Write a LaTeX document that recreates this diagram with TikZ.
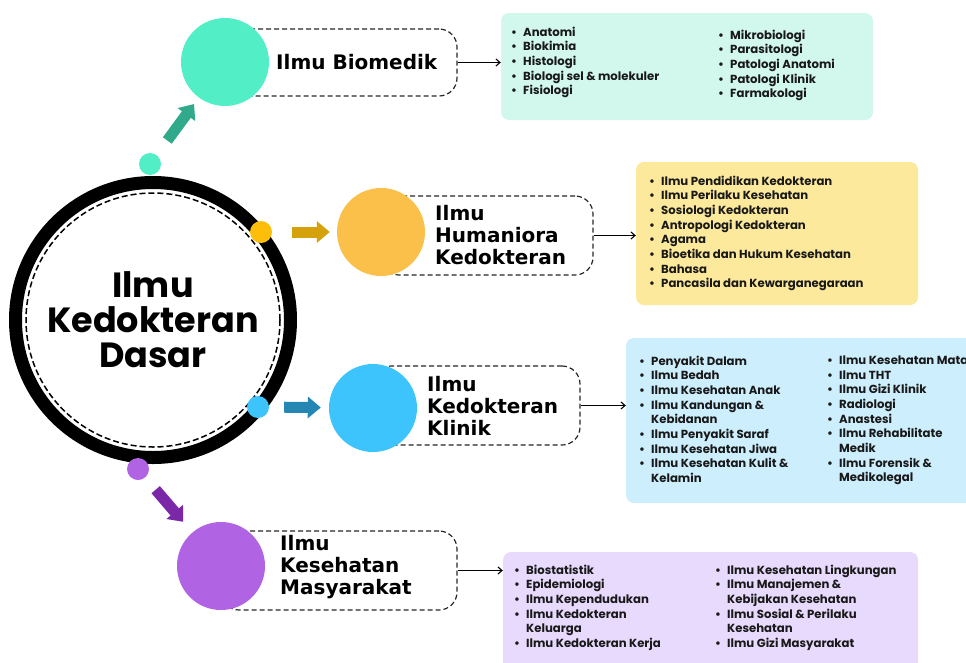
\documentclass[tikz,border=0pt]{standalone}
\usepackage{fontspec}
\setmainfont{Poppins}
\newfontfamily\headfont{DejaVu Sans}
\usetikzlibrary{arrows.meta,positioning}
\definecolor{cTeal}{RGB}{82,239,198}
\definecolor{cTealDk}{RGB}{49,169,139}
\definecolor{cTealBg}{RGB}{210,248,238}
\definecolor{cAmber}{RGB}{250,192,74}
\definecolor{cAmberDot}{RGB}{252,190,10}
\definecolor{cAmberDk}{RGB}{214,162,12}
\definecolor{cAmberBg}{RGB}{253,233,155}
\definecolor{cSky}{RGB}{62,196,253}
\definecolor{cSkyDk}{RGB}{36,135,179}
\definecolor{cSkyBg}{RGB}{205,238,252}
\definecolor{cViolet}{RGB}{176,99,227}
\definecolor{cVioletDk}{RGB}{123,40,168}
\definecolor{cVioletBg}{RGB}{232,218,252}
\tikzset{
	ring/.style={circle, draw=black, line width=13pt, inner sep=0pt,
		minimum size=275pt, align=center,
		font=\bfseries\fontsize{35}{35}\selectfont},
	dot/.style={circle, inner sep=0pt, minimum size=22pt},
	bigdot/.style={circle, inner sep=0pt, minimum size=88pt},
	dashbox/.style={draw=black!85, dash pattern=on 5pt off 3pt, line width=1.2pt,
		rounded corners=18pt, inner sep=0pt},
	title/.style={anchor=west, inner sep=0pt, align=left,
		font=\headfont\bfseries\fontsize{20}{22}\selectfont},
	listbox/.style={rounded corners=8pt, inner sep=0pt},
	listtxt/.style={anchor=north west, inner sep=0pt, align=left,
		font=\bfseries\fontsize{11.7}{14.7}\selectfont, text=black!90},
	blk/.style={line width=11pt, -{Triangle[length=13pt,width=21pt]}},
	lnk/.style={-{Straight Barb[length=4pt,width=7pt]}, line width=1.1pt},
}
\newcommand{\itm}[1]{\makebox[12pt][l]{\textbullet}#1}
\newcommand{\cnt}[1]{\hspace*{12pt}#1}
\begin{document}
\begin{tikzpicture}[x=1pt,y=-1pt]
	\useasboundingbox (0,0) rectangle (966,662);
	\clip (0,0) rectangle (966,662);
	% dashed title boxes
	\node[dashbox, minimum width=232pt, minimum height=67pt] (biobox) at (341,62.5) {};
	\node[dashbox, minimum width=212pt, minimum height=79pt] (humbox) at (487,235.5) {};
	\node[dashbox, minimum width=207pt, minimum height=79pt] (klibox) at (476.5,405.5) {};
	\node[dashbox, minimum width=236pt, minimum height=79pt] (masbox) at (339,570.5) {};
	% coloured circles
	\node[bigdot, fill=cTeal] (biocirc) at (225,62) {};
	\node[bigdot, fill=cAmber] (humcirc) at (381,232) {};
	\node[bigdot, fill=cSky] (klicirc) at (373,408) {};
	\node[bigdot, fill=cViolet] (mascirc) at (221,566) {};
	% titles
	\node[title] (biott) at (276,62) {Ilmu Biomedik};
	\node[title] (humtt) at (435,235.5) {Ilmu\\Humaniora\\Kedokteran};
	\node[title] (klitt) at (427,405.5) {Ilmu\\Kedokteran\\Klinik};
	\node[title] (mastt) at (280,567.5) {Ilmu\\Kesehatan\\Masyarakat};
	% central ring
	\node[ring] (core) at (153,320) {Ilmu\\Kedokteran\\Dasar};
	\draw[dashed, line width=1.5pt, dash pattern=on 6pt off 3pt] (core.center) circle (127);
	\node[dot, fill=cTeal] (dotbio) at (150,164) {};
	\node[dot, fill=cAmberDot] (dothum) at (261,232) {};
	\node[dot, fill=cSky] (dotkli) at (258,407) {};
	\node[dot, fill=cViolet] (dotmas) at (138,469) {};
	% block arrows
	\draw[blk, cTealDk, shorten <=18pt, shorten >=8pt] (dotbio) -- (biocirc);
	\draw[blk, cAmberDk, shorten <=20pt, shorten >=7pt] (dothum) -- (humcirc);
	\draw[blk, cSkyDk, shorten <=15pt, shorten >=8pt] (dotkli) -- (klicirc);
	\draw[blk, cVioletDk, shorten <=16pt, shorten >=14pt] (dotmas) -- (mascirc);
	% list boxes
	\node[listbox, fill=cTealBg, minimum width=372pt, minimum height=107pt] (biolist) at (687,66.5) {};
	\node[listbox, fill=cAmberBg, minimum width=282pt, minimum height=143pt] (humlist) at (777,233.5) {};
	\node[listbox, fill=cSkyBg, minimum width=364pt, minimum height=165pt] (klilist) at (808,420.5) {};
	\node[listbox, fill=cVioletBg, minimum width=415pt, minimum height=128pt] (maslist) at (710.5,616) {};
	\draw[lnk] (biobox.east) -- (biobox.east -| biolist.west);
	\draw[lnk] (humbox.east) -- (humbox.east -| humlist.west);
	\draw[lnk] (klibox.east) -- (klibox.east -| klilist.west);
	\draw[lnk] (masbox.east) -- (masbox.east -| maslist.west);
	% list texts
	\node[listtxt] (bioA) at (511,26.5) {\itm{Anatomi}\\\itm{Biokimia}\\\itm{Histologi}\\
		\itm{Biologi sel \& molekuler}\\\itm{Fisiologi}};
	\node[listtxt] (bioB) at (718,29.5) {\itm{Mikrobiologi}\\\itm{Parasitologi}\\
		\itm{Patologi Anatomi}\\\itm{Patologi Klinik}\\\itm{Farmakologi}};
	\node[listtxt] (humA) at (649,175.5) {\itm{Ilmu Pendidikan Kedokteran}\\
		\itm{Ilmu Perilaku Kesehatan}\\\itm{Sosiologi Kedokteran}\\
		\itm{Antropologi Kedokteran}\\\itm{Agama}\\\itm{Bioetika dan Hukum Kesehatan}\\
		\itm{Bahasa}\\\itm{Pancasila dan Kewarganegaraan}};
	\node[listtxt] (kliA) at (639,355.5) {\itm{Penyakit Dalam}\\\itm{Ilmu Bedah}\\
		\itm{Ilmu Kesehatan Anak}\\\itm{Ilmu Kandungan \&}\\\cnt{Kebidanan}\\
		\itm{Ilmu Penyakit Saraf}\\\itm{Ilmu Kesehatan Jiwa}\\
		\itm{Ilmu Kesehatan Kulit \&}\\\cnt{Kelamin}};
	\node[listtxt] (kliB) at (827,355.5) {\itm{Ilmu Kesehatan Mata}\\\itm{Ilmu THT}\\
		\itm{Ilmu Gizi Klinik}\\\itm{Radiologi}\\\itm{Anastesi}\\
		\itm{Ilmu Rehabilitate}\\\cnt{Medik}\\\itm{Ilmu Forensik \&}\\\cnt{Medikolegal}};
	\node[listtxt] (masA) at (514,564.5) {\itm{Biostatistik}\\\itm{Epidemiologi}\\
		\itm{Ilmu Kependudukan}\\\itm{Ilmu Kedokteran}\\\cnt{Keluarga}\\
		\itm{Ilmu Kedokteran Kerja}};
	\node[listtxt] (masB) at (715,564.5) {\itm{Ilmu Kesehatan Lingkungan}\\
		\itm{Ilmu Manajemen \&}\\\cnt{Kebijakan Kesehatan}\\
		\itm{Ilmu Sosial \& Perilaku}\\\cnt{Kesehatan}\\\itm{Ilmu Gizi Masyarakat}};
\end{tikzpicture}
\end{document}
